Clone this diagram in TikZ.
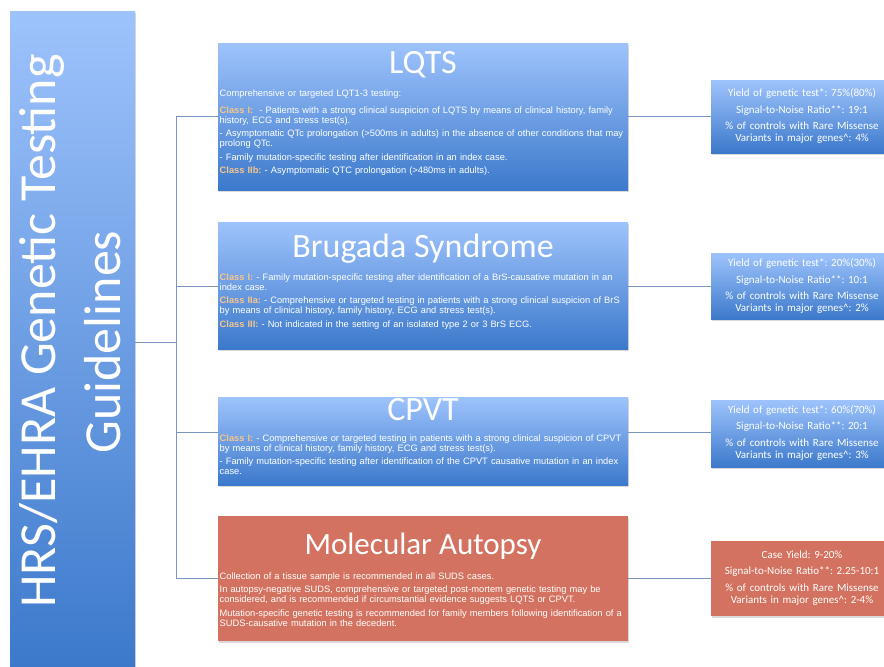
\documentclass[tikz,border=0pt]{standalone}
\usepackage{fontspec}
\setmainfont{Liberation Sans}
\newfontfamily\calfont{Carlito}
\usetikzlibrary{shadows}
\frenchspacing
\definecolor{btop}{RGB}{158,195,252}
\definecolor{bbot}{RGB}{60,121,203}
\definecolor{mared}{RGB}{211,114,96}
\definecolor{connc}{RGB}{122,150,190}
\definecolor{clsor}{RGB}{246,198,140}
\newcommand\cls[1]{\textcolor{clsor}{\bfseries #1}}
\begin{document}
\begin{tikzpicture}[x=1pt,y=-1pt,
 box/.style={draw=none, inner sep=0, anchor=north west,
   drop shadow={opacity=0.3, shadow xshift=0.8pt, shadow yshift=-1.5pt}},
 bluebox/.style={box, top color=btop, bottom color=bbot},
 redbox/.style={box, fill=mared},
 ttl/.style={font=\calfont\fontsize{34}{34}\selectfont, text=white, inner sep=0, anchor=base},
 body/.style={anchor=base west, inner sep=0, align=left, text width=420pt, text=white,
   font=\fontsize{9.3}{10}\selectfont\frenchspacing},
 stat/.style={anchor=base, align=center, text width=170pt, inner sep=0, text=white,
   font=\calfont\fontsize{11}{12}\selectfont\frenchspacing},
 link/.style={draw=connc, line width=0.9pt},
 side/.style={font=\calfont\fontsize{52}{52}\selectfont, text=white, rotate=90, anchor=base, inner sep=0}
]
\useasboundingbox (0,0) rectangle (884,667);

% boxes
\node[bluebox, minimum width=125pt, minimum height=657pt] (bar) at (10,11) {};
\node[bluebox, minimum width=410pt, minimum height=147pt] (lqts) at (218,43) {};
\node[bluebox, minimum width=410pt, minimum height=127pt] (brs) at (218,222) {};
\node[bluebox, minimum width=410pt, minimum height=88pt] (cpvt) at (218,397) {};
\node[redbox, minimum width=410pt, minimum height=125pt] (ma) at (218,516) {};
\node[bluebox, minimum width=180pt, minimum height=73pt] (lqtsR) at (711,80) {};
\node[bluebox, minimum width=180pt, minimum height=66pt] (brsR) at (711,253) {};
\node[bluebox, minimum width=180pt, minimum height=67pt] (cpvtR) at (711,400) {};
\node[redbox, minimum width=180pt, minimum height=75pt] (maR) at (711,541) {};

% connectors
\coordinate (hub) at (176,342);
\coordinate (j1) at (176,116);
\coordinate (j2) at (176,286);
\coordinate (j3) at (176,432);
\coordinate (j4) at (176,578);
\draw[link] (bar.east |- hub) -- (hub);
\draw[link] (j1) -- (j4);
\draw[link] (j1) -- (lqts.west |- j1);
\draw[link] (j2) -- (brs.west |- j2);
\draw[link] (j3) -- (cpvt.west |- j3);
\draw[link] (j4) -- (ma.west |- j4);
\draw[link] (lqts.east |- j1) -- (lqtsR.west |- j1);
\draw[link] (brs.east |- j2) -- (brsR.west |- j2);
\draw[link] (cpvt.east |- j3) -- (cpvtR.west |- j3);
\draw[link] (ma.east |- j4) -- (maR.west |- j4);

% side title
\node[side] (side1) at (55.5,331) {HRS/EHRA Genetic Testing};
\node[side] (side2) at (120,342) {Guidelines};

% titles
\node[ttl] (lqtsT) at (423,73) {LQTS};
\node[ttl] (brsT) at (423,257) {Brugada Syndrome};
\node[ttl] (cpvtT) at (423,420) {CPVT};
\node[ttl, font=\calfont\fontsize{31}{31}\selectfont] (maT) at (423,554) {Molecular Autopsy};

% bodies
\node[body] (lqtsB) at (219.5,96.3) {Comprehensive or targeted LQT1-3 testing:\\[6.7pt]
\cls{Class I:}\ \ - Patients with a strong clinical suspicion of LQTS by means of clinical history, family\\
history, ECG and stress test(s).\\[3.5pt]
- Asymptomatic QTc prolongation (>500ms in adults) in the absence of other conditions that may\\
prolong QTc.\\[3.5pt]
- Family mutation-specific testing after identification in an index case.\\[3.5pt]
\cls{Class IIb:} - Asymptomatic QTC prolongation (>480ms in adults).};

\node[body] (brsB) at (219.5,280.3) {\cls{Class I:} - Family mutation-specific testing after identification of a BrS-causative mutation in an\\
index case.\\[3.5pt]
\cls{Class IIa:} - Comprehensive or targeted testing in patients with a strong clinical suspicion of BrS\\
by means of clinical history, family history, ECG and stress test(s).\\[3.5pt]
\cls{Class III:} - Not indicated in the setting of an isolated type 2 or 3 BrS ECG.};

\node[body] (cpvtB) at (219.5,441.3) {\cls{Class I:} - Comprehensive or targeted testing in patients with a strong clinical suspicion of CPVT\\
by means of clinical history, family history, ECG and stress test(s).\\[3.5pt]
- Family mutation-specific testing after identification of the CPVT causative mutation in an index\\
case.};

\node[body] (maB) at (219.5,579) {Collection of a tissue sample is recommended in all SUDS cases.\\[3.5pt]
In autopsy-negative SUDS, comprehensive or targeted post-mortem genetic testing may be\\
considered, and is recommended if circumstantial evidence suggests LQTS or CPVT.\\[3.5pt]
Mutation-specific genetic testing is recommended for family members following identification of a\\
SUDS-causative mutation in the decedent.};

% stats
\node[stat] (lqtsS) at (802,96.3) {Yield of genetic test*: 75\%(80\%)\\[4.8pt]
Signal-to-Noise Ratio**: 19:1\\[4.8pt]
\% of controls with Rare Missense\\ Variants in major genes\^{}: 4\%};
\node[stat] (brsS) at (802,266.3) {Yield of genetic test*: 20\%(30\%)\\[4.8pt]
Signal-to-Noise Ratio**: 10:1\\[4.8pt]
\% of controls with Rare Missense\\ Variants in major genes\^{}: 2\%};
\node[stat] (cpvtS) at (802,413) {Yield of genetic test*: 60\%(70\%)\\[4.8pt]
Signal-to-Noise Ratio**: 20:1\\[4.8pt]
\% of controls with Rare Missense\\ Variants in major genes\^{}: 3\%};
\node[stat] (maS) at (802,558) {Case Yield: 9-20\%\\[4.8pt]
Signal-to-Noise Ratio**: 2.25-10:1\\[4.8pt]
\% of controls with Rare Missense\\ Variants in major genes\^{}: 2-4\%};
\end{tikzpicture}
\end{document}
